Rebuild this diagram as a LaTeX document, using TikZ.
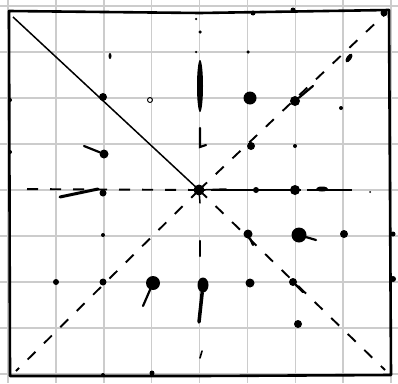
\documentclass[tikz,border=0pt]{standalone}
\usetikzlibrary{shapes.geometric}
\begin{document}
\begin{tikzpicture}[x=1pt,y=-1pt,
  gridline/.style={draw=black!20, line width=1.6pt},
  frame/.style={draw=black, line width=2.6pt, line join=round, line cap=round},
  solidray/.style={draw=black, line width=1.5pt},
  dashray/.style={draw=black, line width=1.9pt, dash pattern=on 11pt off 12pt},
  dot/.style={circle, fill=black, draw=none, inner sep=0pt, minimum size=#1},
  dot/.default=6pt,
  blob/.style={ellipse, fill=black, draw=none, inner sep=0pt},
  ring/.style={circle, draw=black, line width=0.9pt, inner sep=0pt, minimum size=#1},
  tail/.style={draw=black, line width=2.2pt, line cap=round}]
\useasboundingbox (0,0) rectangle (398,383);
\fill[white] (0,0) rectangle (398,383);
% graph paper
\foreach \gx in {8,55.9,103.8,151.6,199.5,247.4,295.3,343.1,391} {\draw[gridline] (\gx,0) -- (\gx,383);}
\foreach \gy in {6,52,98,144,190,236,282,328,374} {\draw[gridline] (0,\gy) -- (398,\gy);}
% key points
\coordinate (c) at (199,190);
\coordinate (tl) at (9,11);
\coordinate (tm) at (200,13);
\coordinate (tr) at (389,10);
\coordinate (br) at (391,375);
\coordinate (bm) at (200,376);
\coordinate (bl) at (10,376);
\coordinate (rayTL) at (13,17);
\coordinate (rayTR) at (384,15);
\coordinate (rayBL) at (16,371);
\coordinate (rayBR) at (385,370);
\coordinate (rayL) at (16,189);
\coordinate (rayR) at (352,190);
% frame
\draw[frame] (tl) -- (tm) -- (tr) -- (br) -- (bm) -- (bl) -- cycle;
% rays
\draw[solidray] (rayTL) -- (c);
\draw[dashray] (c) -- (rayTR);
\draw[dashray] (c) -- (rayBL);
\draw[dashray] (c) -- (rayBR);
\draw[dashray] (c) -- (rayL);
\draw[draw=black, line width=2pt, dash pattern=on 6pt off 6pt on 80pt off 4pt] (c) -- (rayR);
\node[dot=2pt] (speck) at (370,192) {};
% center blob
\node[dot=11pt] (dc) at (c) {};
\draw[tail, line width=1.5pt] (dc) -- (226,189);
\draw[tail, line width=1.5pt] (dc) -- (200,203);
% upper left area
\node[dot=8pt] (d1) at (103,97) {};
\node[ring=5pt] (d2) at (150,100) {};
\node[blob, minimum width=3pt, minimum height=6pt] (d3) at (110,56) {};
\node[dot=9pt] (d4) at (104,154) {};
\draw[tail] (d4) -- (84,146);
\node[dot=4pt] (d5) at (10,100) {};
\node[dot=4pt] (d6) at (10,152) {};
% top border and upper right
\node[dot=5pt] (d7) at (253,13) {};
\node[dot=5pt] (d8) at (293,10) {};
\node[dot=3.5pt] (d9) at (248,52) {};
\node[dot=13pt] (d10) at (250,98) {};
\node[dot=10pt] (d11) at (295,101) {};
\draw[tail] (d11) -- (313,86);
\node[dot=4pt] (d12) at (341,108) {};
\node[dot=8pt] (d13) at (251,146) {};
\node[dot=4pt] (d14) at (295,146) {};
\node[blob, minimum width=5pt, minimum height=10pt, rotate=-35] (d15) at (349,58) {};
\node[dot=7pt] (d16) at (384,13) {};
% marks above centre
\node[dot=2.5pt] (u1) at (196,19) {};
\node[dot=3.5pt] (u2) at (200,32) {};
\node[dot=2.5pt] (u3) at (196,52) {};
\node[blob, minimum width=6pt, minimum height=52pt] (d17) at (200,86) {};
\draw[tail] (200,128) -- (200,147) -- (206,145);
% horizontal left and right marks
\node[dot=7pt] (d19) at (103,193) {};
\draw[tail, line width=3pt] (60,197) -- (98,189);
\node[dot=6pt] (d20) at (256,190) {};
\node[dot=10pt] (d21) at (295,190) {};
\node[blob, minimum width=12pt, minimum height=5pt] (d22) at (322,189) {};
% lower left
\node[dot=4pt] (d23) at (103,235) {};
\node[dot=6pt] (d24) at (56,282) {};
\node[dot=7pt] (d25) at (103,282) {};
\node[dot=14pt] (d26) at (153,283) {};
\draw[tail] (d26) -- (143,306);
\node[dot=4pt] (d27) at (103,375) {};
\node[dot=5pt] (d28) at (152,373) {};
% lower right
\node[dot=9pt] (d29) at (248,234) {};
\draw[tail] (d29) -- (253,245);
\node[dot=15pt] (d30) at (299,235) {};
\draw[tail] (d30) -- (316,240);
\node[dot=8pt] (d31) at (344,234) {};
\node[dot=9pt] (d32) at (250,283) {};
\node[dot=8pt] (d33) at (293,282) {};
\draw[tail] (d33) -- (303,292);
\node[dot=8pt] (d34) at (298,324) {};
\node[dot=5pt] (d35) at (393,234) {};
\node[dot=6pt] (d36) at (393,279) {};
% marks below centre
\draw[tail] (200,241) -- (200,256);
\node[blob, minimum width=11pt, minimum height=15pt] (d37) at (203,285) {};
\draw[tail, line width=3.5pt] (d37) -- (199,322);
\draw[tail, line width=1.6pt] (202,351) -- (200,358);
\end{tikzpicture}
\end{document}
